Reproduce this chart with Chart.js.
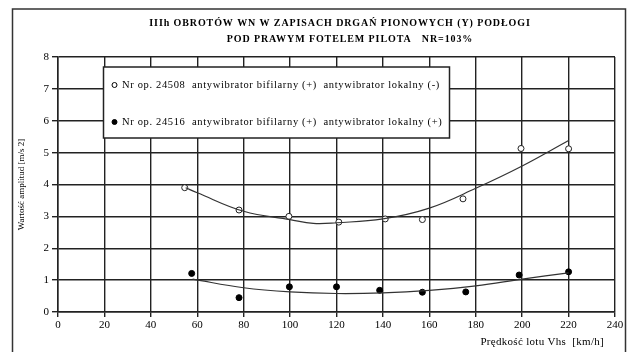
<!DOCTYPE html>
<html>
<head>
<meta charset="utf-8">
<script src="https://cdn.jsdelivr.net/npm/chart.js@4/dist/chart.umd.min.js"></script>
<style>
  html, body { margin: 0; padding: 0; background: #fff; }
  #wrap { width: 629px; height: 352px; }
</style>
</head>
<body>
<div id="wrap"><canvas id="c" width="629" height="352"></canvas></div>
<script>
// measured points, series 1 (open circles) and series 2 (filled)
const speed1 = [54.6, 78, 99.5, 121, 141, 157, 174.5, 199.5, 220];
const ampl1 = [3.9, 3.2, 3.0, 2.82, 2.92, 2.9, 3.55, 5.13, 5.12];
const speed2 = [57.6, 78, 99.7, 120, 138.6, 157, 175.7, 198.7, 220];
const ampl2 = [1.21, 0.45, 0.79, 0.79, 0.68, 0.62, 0.63, 1.16, 1.26];

// trend curves
const trendX1 = [55, 60, 80, 100, 110, 120, 140, 160, 180, 200, 220];
const trendY1 = [3.9, 3.74, 3.16, 2.9, 2.78, 2.8, 2.92, 3.26, 3.88, 4.58, 5.38];
const trendX2 = [58, 80, 100, 120, 140, 160, 180, 200, 220];
const trendY2 = [1.03, 0.76, 0.63, 0.58, 0.6, 0.68, 0.82, 1.03, 1.23];

const titleLines = [
  "IIIh OBROTÓW WN W ZAPISACH DRGAŃ PIONOWYCH (Y) PODŁOGI",
  "POD PRAWYM FOTELEM PILOTA   NR=103%"
];
const legendLabels = [
  "Nr op. 24508  antywibrator bifilarny (+)  antywibrator lokalny (-)",
  "Nr op. 24516  antywibrator bifilarny (+)  antywibrator lokalny (+)"
];
const xTitle = "Prędkość lotu Vhs  [km/h]";
const yTitle = "Wartość amplitud [m/s 2]";

const pts = (xs, ys) => xs.map((x, i) => ({ x: x, y: ys[i] }));
const serif = "'Liberation Serif', 'DejaVu Serif', serif";

// frame, title, x axis caption and the boxed legend inside the plot
const decor = {
  id: "decor",
  afterDraw(chart) {
    const ctx = chart.ctx;
    ctx.save();
    ctx.strokeStyle = "#333";
    ctx.lineWidth = 1.5;
    ctx.strokeRect(12.5, 9, 613, 350);

    ctx.fillStyle = "#000";
    ctx.textAlign = "center";
    ctx.textBaseline = "middle";
    ctx.font = "bold 10px " + serif;
    ctx.letterSpacing = "0.9px";
    ctx.fillText(titleLines[0], 340, 23);
    ctx.fillText(titleLines[1], 350, 39);

    ctx.textAlign = "right";
    ctx.font = "11px " + serif;
    ctx.letterSpacing = "0.3px";
    ctx.fillText(xTitle, 604, 342);

    // legend box
    ctx.fillStyle = "#fff";
    ctx.fillRect(103.5, 67, 346, 71);
    ctx.strokeStyle = "#222";
    ctx.lineWidth = 1.5;
    ctx.strokeRect(103.5, 67, 346, 71);

    const rows = [85, 122];
    rows.forEach((y, i) => {
      ctx.beginPath();
      ctx.arc(114.5, y, 2.5, 0, Math.PI * 2);
      ctx.fillStyle = i === 0 ? "#fff" : "#000";
      ctx.fill();
      ctx.lineWidth = 1;
      ctx.strokeStyle = "#000";
      ctx.stroke();
      ctx.fillStyle = "#000";
      ctx.textAlign = "left";
      ctx.font = "10.5px " + serif;
      ctx.letterSpacing = "0.65px";
      ctx.fillText(legendLabels[i], 122, y);
    });
    ctx.restore();
  }
};

new Chart(document.getElementById("c"), {
  type: "scatter",
  data: {
    datasets: [
      {
        data: pts(trendX1, trendY1),
        showLine: true,
        borderColor: "#333",
        borderWidth: 1.2,
        pointRadius: 0,
        tension: 0.4
      },
      {
        data: pts(trendX2, trendY2),
        showLine: true,
        borderColor: "#333",
        borderWidth: 1.2,
        pointRadius: 0,
        tension: 0.4
      },
      {
        data: pts(speed1, ampl1),
        pointRadius: 3,
        pointBackgroundColor: "#fff",
        pointBorderColor: "#222",
        pointBorderWidth: 1
      },
      {
        data: pts(speed2, ampl2),
        pointRadius: 3,
        pointBackgroundColor: "#000",
        pointBorderColor: "#000",
        pointBorderWidth: 1
      }
    ]
  },
  options: {
    responsive: false,
    animation: false,
    layout: { padding: { top: 57, right: 14, left: 0, bottom: 0 } },
    plugins: {
      legend: { display: false },
      tooltip: { enabled: false }
    },
    scales: {
      x: {
        min: 0,
        max: 240,
        afterFit: (s) => { s.height = 40; },
        ticks: { stepSize: 20, color: "#000", padding: 2, font: { family: serif, size: 11 } },
        grid: { color: "#222", lineWidth: 1.4, tickLength: 5 },
        border: { color: "#222", width: 1.5 }
      },
      y: {
        min: 0,
        max: 8,
        afterFit: (s) => { s.width = 58; },
        ticks: { stepSize: 1, color: "#000", padding: 3, font: { family: serif, size: 11 } },
        grid: { color: "#222", lineWidth: 1.4, tickLength: 6 },
        border: { color: "#222", width: 1.5 },
        title: {
          display: true,
          text: yTitle,
          color: "#000",
          font: { family: serif, size: 9 },
          padding: { top: 16, bottom: 0 }
        }
      }
    }
  },
  plugins: [decor]
});
</script>
</body>
</html>
